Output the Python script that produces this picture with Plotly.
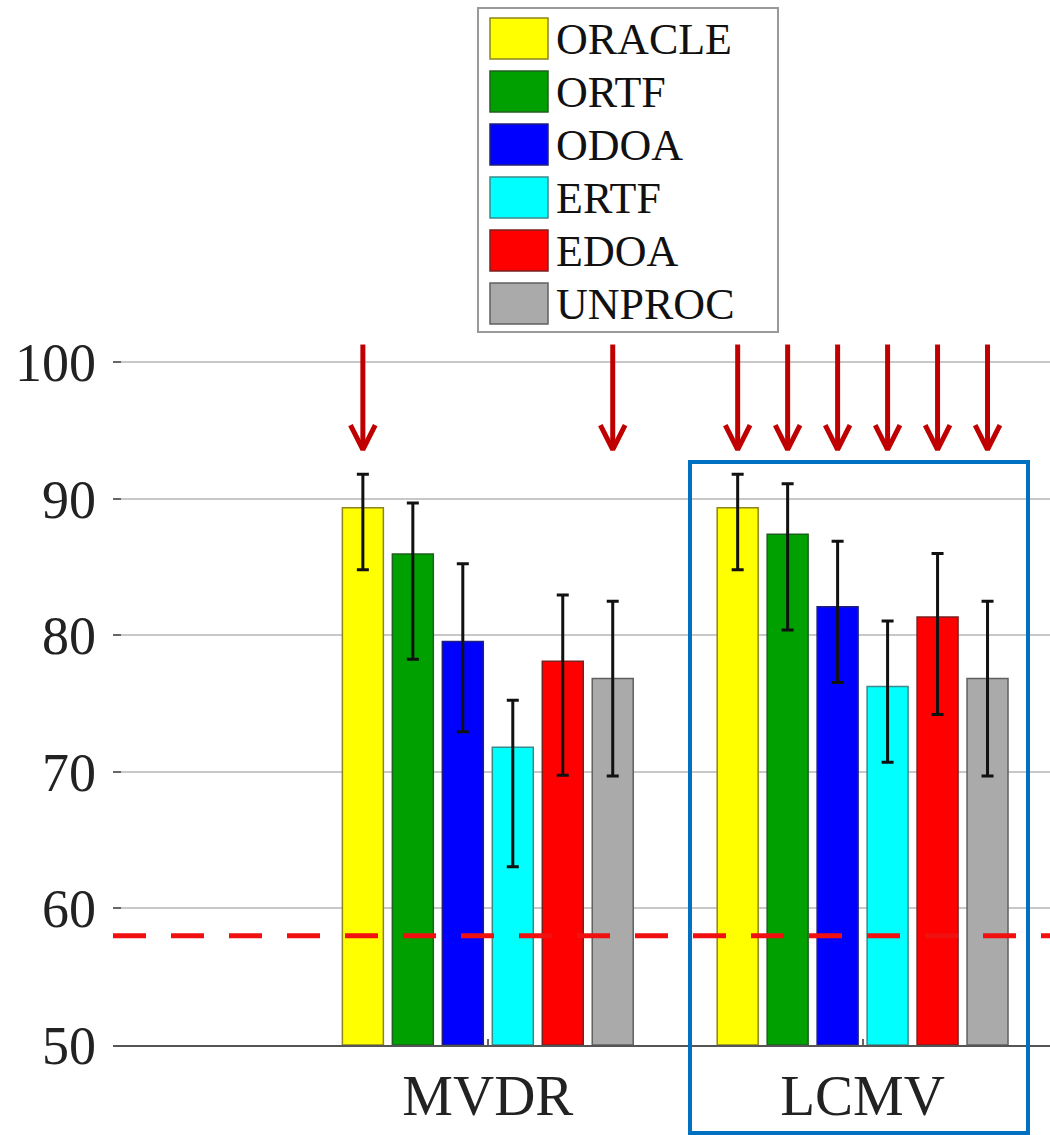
import plotly.graph_objects as go

# ---------------- data ----------------
groups = ["MVDR", "LCMV"]
group_pos = [1, 2]
methods = ["ORACLE", "ORTF", "ODOA", "ERTF", "EDOA", "UNPROC"]
colors = ["#FFFF00", "#00A000", "#0000FF", "#00FFFF", "#FF0000", "#AAAAAA"]
edge_colors = ["#8C8420", "#1F5F1F", "#20207A", "#3A8A8A", "#7A2020", "#606060"]

# mean values per method: [MVDR, LCMV]
oracle = [89.35, 89.35]
ortf = [85.95, 87.4]
odoa = [79.55, 82.1]
ertf = [71.8, 76.25]
edoa = [78.1, 81.35]
unproc = [76.85, 76.85]

# error bar upper / lower ends
oracle_hi = [91.8, 91.8]
oracle_lo = [84.8, 84.8]
ortf_hi = [89.7, 91.1]
ortf_lo = [78.25, 80.4]
odoa_hi = [85.25, 86.9]
odoa_lo = [72.95, 76.55]
ertf_hi = [75.25, 81.05]
ertf_lo = [63.05, 70.7]
edoa_hi = [82.95, 86.0]
edoa_lo = [69.75, 74.2]
unproc_hi = [82.5, 82.5]
unproc_lo = [69.7, 69.7]

means = [oracle, ortf, odoa, ertf, edoa, unproc]
highs = [oracle_hi, ortf_hi, odoa_hi, ertf_hi, edoa_hi, unproc_hi]
lows = [oracle_lo, ortf_lo, odoa_lo, ertf_lo, edoa_lo, unproc_lo]

baseline = 58.0

# arrows marking bars (per group, per method)
arrow_flags = [
    [1, 0, 0, 0, 0, 1],   # MVDR
    [1, 1, 1, 1, 1, 1],   # LCMV
]

y_ticks = [50, 60, 70, 80, 90, 100]

# ---------------- figure ----------------
BARGAP = 0.2
GROUPGAP = 0.18
XMIN, XMAX = 0, 2.5
YMIN, YMAX = 50, 105

fig = go.Figure()
for i, m in enumerate(methods):
    plus = [h - v for h, v in zip(highs[i], means[i])]
    minus = [v - l for l, v in zip(lows[i], means[i])]
    fig.add_trace(go.Bar(
        x=group_pos, y=[v - YMIN for v in means[i]], base=YMIN, name=m,
        marker=dict(color=colors[i], line=dict(color=edge_colors[i], width=1.5)),
        error_y=dict(type="data", symmetric=False, array=plus, arrayminus=minus,
                     color="#111111", thickness=3, width=6),
        showlegend=False,
    ))

# baseline dashed line
fig.add_trace(go.Scatter(
    x=[XMIN, XMAX], y=[baseline, baseline], mode="lines",
    line=dict(color="#F01010", width=5, dash="33px,25px"),
    showlegend=False, hoverinfo="skip", cliponaxis=False,
))

# arrows over marked bars
n = len(methods)
slot = (1 - BARGAP) / n
ax_x, ax_y = [], []
shaft_top, tip = 101.3, 93.6
hw, hh = 0.033, 1.8
for g, gp in enumerate(group_pos):
    for i in range(n):
        if arrow_flags[g][i]:
            xc = gp + (i - (n - 1) / 2) * slot
            ax_x += [xc, xc, None, xc - hw, xc, xc + hw, None]
            ax_y += [shaft_top, tip + 0.3, None, tip + hh, tip, tip + hh, None]
fig.add_trace(go.Scatter(
    x=ax_x, y=ax_y, mode="lines",
    line=dict(color="#C00000", width=5),
    showlegend=False, hoverinfo="skip",
))

# plot geometry in px
L, R, T, B = 113, 0, 294, 90
W, H = 1050, 1135
pw, ph = W - L - R, H - T - B


def px_to_paper(px, py):
    return (px - L) / pw, (H - B - py) / ph


shapes = []
annotations = []

# manual legend
bx0, by0 = px_to_paper(478, 8)
bx1, by1 = px_to_paper(778, 332)
shapes.append(dict(type="rect", xref="paper", yref="paper", x0=bx0, y0=by1, x1=bx1, y1=by0,
                   line=dict(color="#9A9A9A", width=2), fillcolor="white", layer="above"))
for i, m in enumerate(methods):
    top = 18 + i * 53
    sx0, sy0 = px_to_paper(490, top)
    sx1, sy1 = px_to_paper(548, top + 41)
    shapes.append(dict(type="rect", xref="paper", yref="paper", x0=sx0, y0=sy1, x1=sx1, y1=sy0,
                       line=dict(color=edge_colors[i], width=1.5), fillcolor=colors[i], layer="above"))
    tx, ty = px_to_paper(554, top + 21)
    annotations.append(dict(xref="paper", yref="paper", x=tx, y=ty, text=m, showarrow=False,
                            xanchor="left", yanchor="middle",
                            font=dict(family="Liberation Serif", size=44, color="#111111")))

# highlight box around LCMV
hx0, hy0 = px_to_paper(690, 462)
hx1, hy1 = px_to_paper(1028, 1133)
shapes.append(dict(type="rect", xref="paper", yref="paper", x0=hx0, y0=hy1, x1=hx1, y1=hy0,
                   line=dict(color="#0070C0", width=4), fillcolor="rgba(0,0,0,0)", layer="above"))

fig.update_layout(
    width=W, height=H,
    margin=dict(l=L, r=R, t=T, b=B, pad=0, autoexpand=False),
    paper_bgcolor="white", plot_bgcolor="white",
    barmode="group", bargap=BARGAP, bargroupgap=GROUPGAP,
    shapes=shapes, annotations=annotations,
    showlegend=False,
    font=dict(family="Liberation Serif", color="#222222"),
)
fig.update_xaxes(
    range=[XMIN, XMAX], tickvals=group_pos, ticktext=groups,
    tickfont=dict(family="Liberation Serif", size=57, color="#222222"),
    ticks="inside", ticklen=6, tickcolor="#666666", tickwidth=1.5,
    showgrid=False, zeroline=False,
    showline=True, linecolor="#555555", linewidth=2,
    ticklabelstandoff=0, automargin=False,
)
fig.update_yaxes(
    range=[YMIN, YMAX], tickvals=y_ticks,
    tickfont=dict(family="Liberation Serif", size=54, color="#222222"),
    ticks="inside", ticklen=8, tickcolor="#666666", tickwidth=1.5,
    showgrid=True, gridcolor="#C8C8C8", gridwidth=2,
    zeroline=False, showline=False,
    ticklabelstandoff=16, automargin=False,
)

fig.write_html("out.html")
